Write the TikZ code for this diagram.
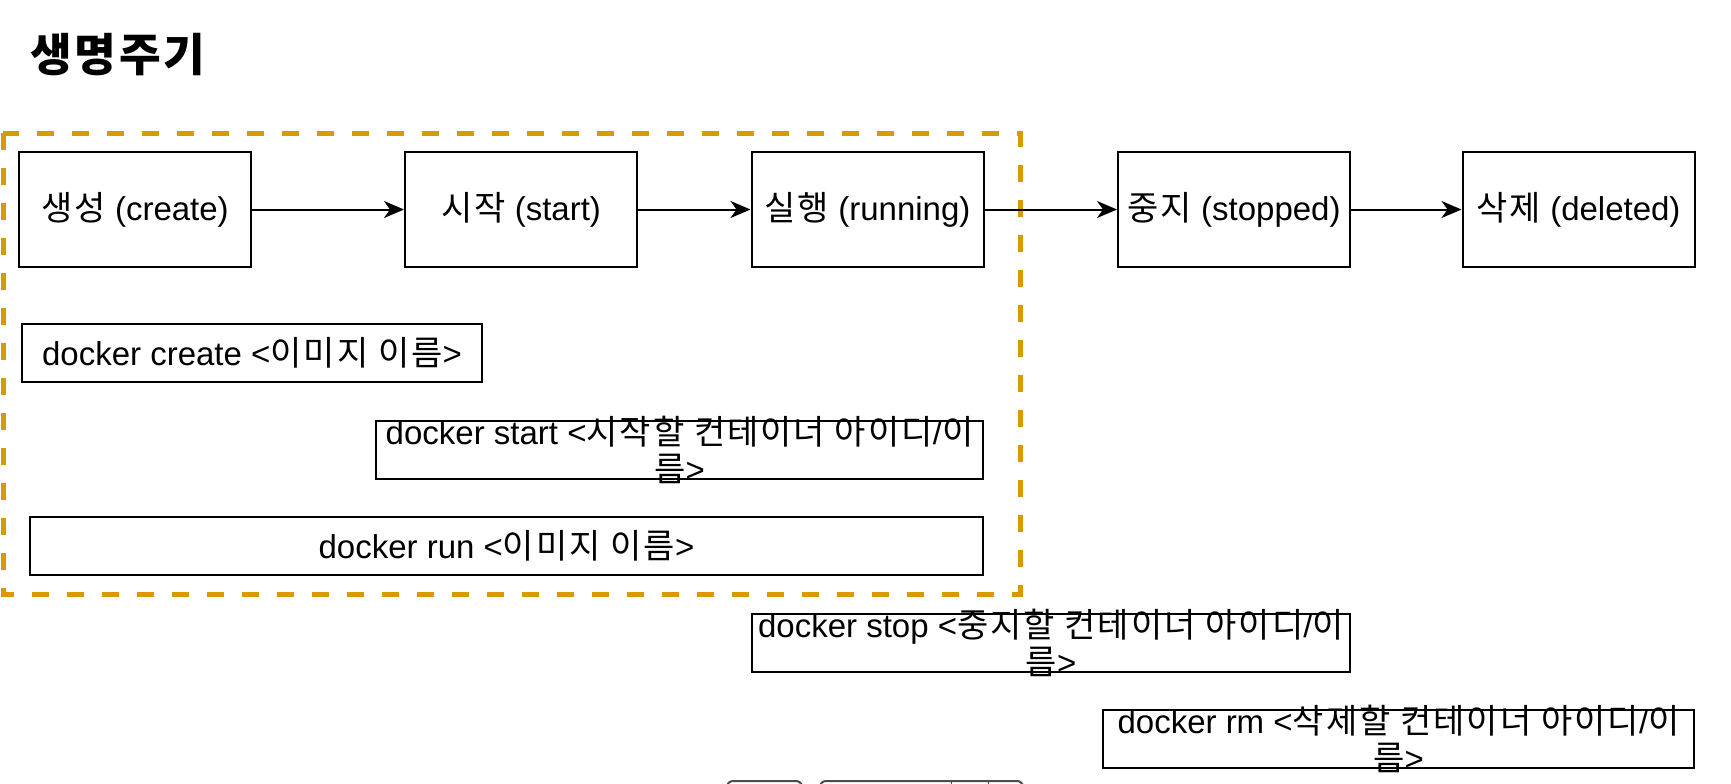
\documentclass[tikz,border=0pt]{standalone}
\usepackage{fontspec}
\setmainfont{Liberation Sans}
\newfontfamily\kr[Scale=1.03, LetterSpace=6]{Noto Sans CJK KR}
\usetikzlibrary{arrows.meta}
\definecolor{phaseorange}{HTML}{D79B00}

\begin{document}
\begin{tikzpicture}[x=0.5pt, y=-0.5pt]
        % ================= 스타일 정의 =================
        % 상태 상자: 검은 테두리, 큰 글씨
        \tikzset{
            stage/.style={draw=black, line width=1pt, fill=white, minimum width=116pt, minimum height=57.5pt, inner sep=0pt, font=\fontsize{16.5}{18.5}\selectfont},
            cmd/.style={draw=black, line width=1pt, minimum height=29pt, inner sep=0pt, align=center, font=\fontsize{16.5}{18.5}\selectfont},
            % 두 줄 명령어: 글자가 상자 밖으로 넘침
            wrapcmd/.style={cmd, label={[inner sep=0pt, align=center, font=\fontsize{16.5}{18.5}\selectfont]center:#1}},
            link/.style={line width=1pt, -{Stealth[length=10pt, width=8.5pt, inset=3pt]}},
            phase/.style={draw=phaseorange, line width=2.5pt, dash pattern=on 8.5pt off 9pt}
        }

        % ================= 그림 부분 =================
        \path[use as bounding box, fill=white] (0,0) rectangle (1731,783);
        \clip (0,0) rectangle (1731,783);

        % 제목
        \node[anchor=west, inner sep=0pt, font=\kr\bfseries\fontsize{22}{26}\selectfont] (title) at (30,55) {생명주기};

        % 생성 + 실행 구간 (점선)
        \draw[phase] (3,133) rectangle (1020,594);

        % 상태 상자
        \node[stage] (create) at (135, 209.5) {{\kr 생성} (create)};
        \node[stage] (start) at (521, 209.5) {{\kr 시작} (start)};
        \node[stage] (running) at (867.5, 209.5) {{\kr 실행} (running)};
        \node[stage] (stopped) at (1234, 209.5) {{\kr 중지} (stopped)};
        \node[stage] (deleted) at (1578.5, 209.5) {{\kr 삭제} (deleted)};

        \draw[link] (create) -- (start);
        \draw[link] (start) -- (running);
        \draw[link] (running) -- (stopped);
        \draw[link] (stopped) -- (deleted);

        % 명령어 상자
        \node[cmd, minimum width=230pt] (createcmd) at (252, 353) {docker create <{\kr 이미지 이름}>};
        \node[wrapcmd={docker start <{\kr 시작할 컨테이너 아이디}/{\kr 이}\\{\kr 름}>}, minimum width=303.5pt] (startcmd) at (679.5, 449.5) {};
        \node[cmd, minimum width=476.5pt] (runcmd) at (506.5, 546) {docker run <{\kr 이미지 이름}>};
        \node[wrapcmd={docker stop <{\kr 중지할 컨테이너 아이디}/{\kr 이}\\{\kr 름}>}, minimum width=299pt] (stopcmd) at (1051, 642.5) {};
        \node[wrapcmd={docker rm <{\kr 삭제할 컨테이너 아이디}/{\kr 이}\\{\kr 름}>}, minimum width=295.5pt] (rmcmd) at (1398.5, 739) {};

        % 아래쪽에 잘린 상자
        \draw[gray!60!black, line width=1pt, rounded corners=3pt] (727,781) rectangle (802,840);
        \draw[gray!60!black, line width=1pt, rounded corners=3pt] (820,781) rectangle (1023,840);
        \draw[gray!60!black, line width=0.5pt] (951,781) -- (951,840) (988,781) -- (988,840);

    \end{tikzpicture}
\end{document}
